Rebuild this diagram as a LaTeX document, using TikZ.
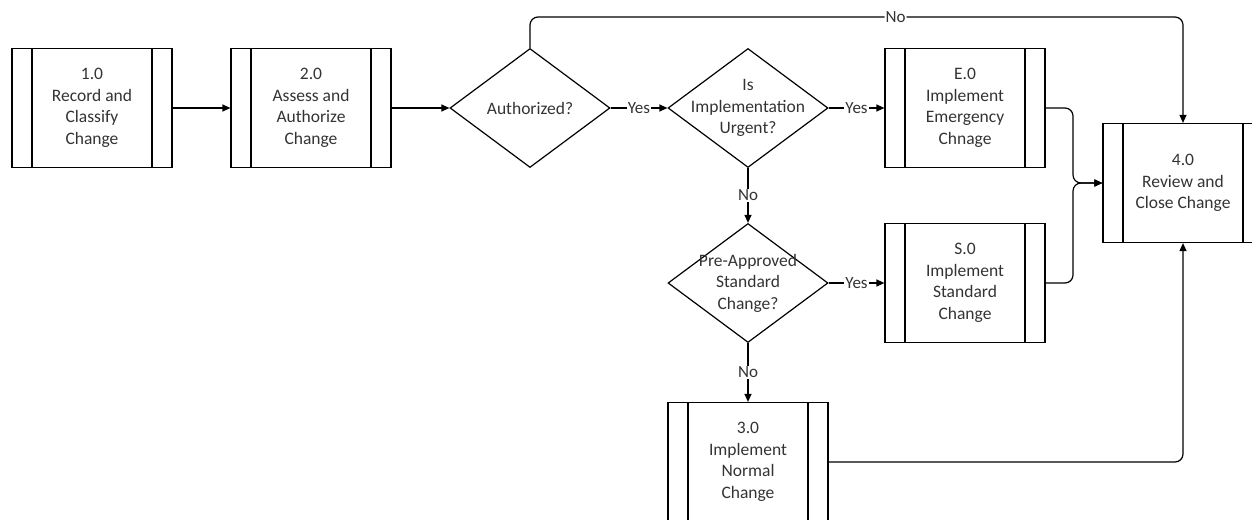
\documentclass[tikz,border=0pt]{standalone}
\usepackage{fontspec}
\setmainfont{Carlito}
\usetikzlibrary{shapes.geometric,arrows.meta}
\tikzset{
  proc/.style={draw, line width=1.2pt, minimum width=160, minimum height=119, inner sep=0, align=center,
    path picture={\draw[line width=1.2pt] ([xshift=20pt]path picture bounding box.north west) -- ([xshift=20pt]path picture bounding box.south west)
      ([xshift=-20pt]path picture bounding box.north east) -- ([xshift=-20pt]path picture bounding box.south east);}},
  dec/.style={draw, diamond, line width=1.2pt, minimum width=160, minimum height=119, inner sep=0},
  lbl/.style={fill=white, inner sep=1pt, font=\fontsize{17}{20}\selectfont},
  flow/.style={line width=1.2pt, -{Triangle[length=8pt,width=7pt]}}
}
\begin{document}
\begin{tikzpicture}[x=1pt, y=-1pt, font=\fontsize{17.5}{21.5}\selectfont, text=black!80]
\useasboundingbox (0,0) rectangle (1252,519);
\node[proc] (pr1) at (92,108) {1.0\\Record and\\Classify\\Change};
\node[proc] (pr2) at (311,108) {2.0\\Assess and\\Authorize\\Change};
\node[dec, label={[align=center]center:Authorized?}] (dec1) at (530,108) {};
\node[dec, label={[align=center]center:Is\\Implementation\\Urgent?}] (dec2) at (748,108) {};
\node[proc] (prE) at (965,108) {E.0\\Implement\\Emergency\\Chnage};
\node[dec, label={[align=center]center:Pre-Approved\\Standard\\Change?}] (dec3) at (748,283) {};
\node[proc] (prS) at (965,283) {S.0\\Implement\\Standard\\Change};
\node[proc] (pr3) at (748,462) {3.0\\Implement\\Normal\\Change};
\node[proc] (pr4) at (1183,183) {4.0\\Review and\\Close Change};
\coordinate (top) at (0,17);
\coordinate (mrg) at (1073,183);
\draw[flow] (pr1) -- (pr2);
\draw[flow] (pr2) -- (dec1);
\draw[flow] (dec1) -- node[lbl]{Yes} (dec2);
\draw[flow] (dec2) -- node[lbl]{Yes} (prE);
\draw[flow] (dec2) -- node[lbl]{No} (dec3);
\draw[flow] (dec3) -- node[lbl]{Yes} (prS);
\draw[flow] (dec3) -- node[lbl]{No} (pr3);
\draw[flow, rounded corners=8pt] (dec1.north) -- (dec1.north |- top) -- node[lbl, pos=0.56]{No} (pr4.north |- top) -- (pr4.north);
\draw[flow, rounded corners=8pt] (prE.east) -| (mrg) -- (pr4.west |- mrg);
\draw[flow, rounded corners=8pt] (prS.east) -| (mrg) -- (pr4.west |- mrg);
\draw[flow, rounded corners=8pt] (pr3.east) -| (pr4.south);
\end{tikzpicture}
\end{document}
